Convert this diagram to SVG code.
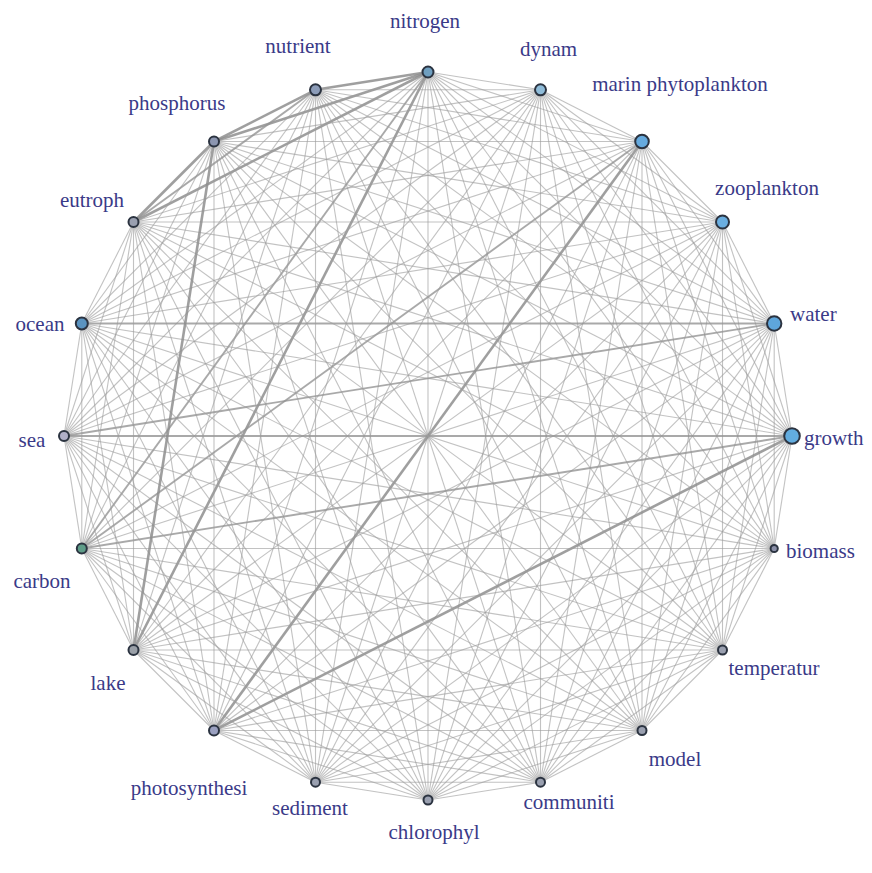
<svg xmlns="http://www.w3.org/2000/svg" width="872" height="873" viewBox="0 0 872 873">
<style>
.e{fill:none;stroke:#9c9c9c;stroke-opacity:.62;stroke-width:1.1}
.m{fill:none;stroke:#949494;stroke-opacity:.8;stroke-width:1.9}
.t{fill:none;stroke:#8e8e8e;stroke-opacity:.85;stroke-width:2.6}
.n{stroke:#2b3340;stroke-width:2}
.l{font-family:"Liberation Serif","Times New Roman",serif;font-size:21px;fill:#3a3a88}
</style>
<rect width="872" height="873" fill="#ffffff"/>
<g id="edges">
<path class="e" d="M428 72L540.5 89.8"/><path class="e" d="M428 72L642 141.5"/><path class="e" d="M428 72L722.5 222"/><path class="e" d="M428 72L774.2 323.5"/><path class="e" d="M428 72L792 436"/><path class="e" d="M428 72L774.2 548.5"/><path class="e" d="M428 72L722.5 650"/><path class="e" d="M428 72L642 730.5"/><path class="e" d="M428 72L540.5 782.2"/><path class="e" d="M428 72L428 800"/><path class="e" d="M428 72L315.5 782.2"/><path class="e" d="M428 72L214 730.5"/><path class="t" d="M428 72L133.5 650"/><path class="m" d="M428 72L81.8 548.5"/><path class="e" d="M428 72L64 436"/><path class="e" d="M428 72L81.8 323.5"/><path class="t" d="M428 72L133.5 222"/><path class="t" d="M428 72L214 141.5"/><path class="t" d="M428 72L315.5 89.8"/>
<path class="e" d="M540.5 89.8L642 141.5"/><path class="e" d="M540.5 89.8L722.5 222"/><path class="e" d="M540.5 89.8L774.2 323.5"/><path class="e" d="M540.5 89.8L792 436"/><path class="e" d="M540.5 89.8L774.2 548.5"/><path class="e" d="M540.5 89.8L722.5 650"/><path class="e" d="M540.5 89.8L642 730.5"/><path class="e" d="M540.5 89.8L540.5 782.2"/><path class="e" d="M540.5 89.8L428 800"/><path class="e" d="M540.5 89.8L315.5 782.2"/><path class="e" d="M540.5 89.8L214 730.5"/><path class="e" d="M540.5 89.8L133.5 650"/><path class="e" d="M540.5 89.8L81.8 548.5"/><path class="e" d="M540.5 89.8L64 436"/><path class="e" d="M540.5 89.8L81.8 323.5"/><path class="e" d="M540.5 89.8L133.5 222"/><path class="e" d="M540.5 89.8L214 141.5"/><path class="e" d="M540.5 89.8L315.5 89.8"/>
<path class="e" d="M642 141.5L722.5 222"/><path class="e" d="M642 141.5L774.2 323.5"/><path class="e" d="M642 141.5L792 436"/><path class="e" d="M642 141.5L774.2 548.5"/><path class="e" d="M642 141.5L722.5 650"/><path class="e" d="M642 141.5L642 730.5"/><path class="e" d="M642 141.5L540.5 782.2"/><path class="e" d="M642 141.5L428 800"/><path class="e" d="M642 141.5L315.5 782.2"/><path class="t" d="M642 141.5L214 730.5"/><path class="e" d="M642 141.5L133.5 650"/><path class="m" d="M642 141.5L81.8 548.5"/><path class="e" d="M642 141.5L64 436"/><path class="e" d="M642 141.5L81.8 323.5"/><path class="e" d="M642 141.5L133.5 222"/><path class="e" d="M642 141.5L214 141.5"/><path class="e" d="M642 141.5L315.5 89.8"/>
<path class="e" d="M722.5 222L774.2 323.5"/><path class="e" d="M722.5 222L792 436"/><path class="e" d="M722.5 222L774.2 548.5"/><path class="e" d="M722.5 222L722.5 650"/><path class="e" d="M722.5 222L642 730.5"/><path class="e" d="M722.5 222L540.5 782.2"/><path class="e" d="M722.5 222L428 800"/><path class="e" d="M722.5 222L315.5 782.2"/><path class="e" d="M722.5 222L214 730.5"/><path class="e" d="M722.5 222L133.5 650"/><path class="e" d="M722.5 222L81.8 548.5"/><path class="e" d="M722.5 222L64 436"/><path class="e" d="M722.5 222L81.8 323.5"/><path class="e" d="M722.5 222L133.5 222"/><path class="e" d="M722.5 222L214 141.5"/><path class="e" d="M722.5 222L315.5 89.8"/>
<path class="e" d="M774.2 323.5L792 436"/><path class="e" d="M774.2 323.5L774.2 548.5"/><path class="e" d="M774.2 323.5L722.5 650"/><path class="e" d="M774.2 323.5L642 730.5"/><path class="e" d="M774.2 323.5L540.5 782.2"/><path class="e" d="M774.2 323.5L428 800"/><path class="e" d="M774.2 323.5L315.5 782.2"/><path class="e" d="M774.2 323.5L214 730.5"/><path class="e" d="M774.2 323.5L133.5 650"/><path class="e" d="M774.2 323.5L81.8 548.5"/><path class="m" d="M774.2 323.5L64 436"/><path class="m" d="M774.2 323.5L81.8 323.5"/><path class="e" d="M774.2 323.5L133.5 222"/><path class="e" d="M774.2 323.5L214 141.5"/><path class="e" d="M774.2 323.5L315.5 89.8"/>
<path class="e" d="M792 436L774.2 548.5"/><path class="e" d="M792 436L722.5 650"/><path class="e" d="M792 436L642 730.5"/><path class="e" d="M792 436L540.5 782.2"/><path class="e" d="M792 436L428 800"/><path class="e" d="M792 436L315.5 782.2"/><path class="t" d="M792 436L214 730.5"/><path class="e" d="M792 436L133.5 650"/><path class="m" d="M792 436L81.8 548.5"/><path class="m" d="M792 436L64 436"/><path class="e" d="M792 436L81.8 323.5"/><path class="e" d="M792 436L133.5 222"/><path class="e" d="M792 436L214 141.5"/><path class="e" d="M792 436L315.5 89.8"/>
<path class="e" d="M774.2 548.5L722.5 650"/><path class="e" d="M774.2 548.5L642 730.5"/><path class="e" d="M774.2 548.5L540.5 782.2"/><path class="e" d="M774.2 548.5L428 800"/><path class="e" d="M774.2 548.5L315.5 782.2"/><path class="e" d="M774.2 548.5L214 730.5"/><path class="e" d="M774.2 548.5L133.5 650"/><path class="e" d="M774.2 548.5L81.8 548.5"/><path class="e" d="M774.2 548.5L64 436"/><path class="e" d="M774.2 548.5L81.8 323.5"/><path class="e" d="M774.2 548.5L133.5 222"/><path class="e" d="M774.2 548.5L214 141.5"/><path class="e" d="M774.2 548.5L315.5 89.8"/>
<path class="e" d="M722.5 650L642 730.5"/><path class="e" d="M722.5 650L540.5 782.2"/><path class="e" d="M722.5 650L428 800"/><path class="e" d="M722.5 650L315.5 782.2"/><path class="e" d="M722.5 650L214 730.5"/><path class="e" d="M722.5 650L133.5 650"/><path class="e" d="M722.5 650L81.8 548.5"/><path class="e" d="M722.5 650L64 436"/><path class="e" d="M722.5 650L81.8 323.5"/><path class="e" d="M722.5 650L133.5 222"/><path class="e" d="M722.5 650L214 141.5"/><path class="e" d="M722.5 650L315.5 89.8"/>
<path class="e" d="M642 730.5L540.5 782.2"/><path class="e" d="M642 730.5L428 800"/><path class="e" d="M642 730.5L315.5 782.2"/><path class="e" d="M642 730.5L214 730.5"/><path class="e" d="M642 730.5L133.5 650"/><path class="e" d="M642 730.5L81.8 548.5"/><path class="e" d="M642 730.5L64 436"/><path class="e" d="M642 730.5L81.8 323.5"/><path class="e" d="M642 730.5L133.5 222"/><path class="e" d="M642 730.5L214 141.5"/><path class="e" d="M642 730.5L315.5 89.8"/>
<path class="e" d="M540.5 782.2L428 800"/><path class="e" d="M540.5 782.2L315.5 782.2"/><path class="e" d="M540.5 782.2L214 730.5"/><path class="e" d="M540.5 782.2L133.5 650"/><path class="e" d="M540.5 782.2L81.8 548.5"/><path class="e" d="M540.5 782.2L64 436"/><path class="e" d="M540.5 782.2L81.8 323.5"/><path class="e" d="M540.5 782.2L133.5 222"/><path class="e" d="M540.5 782.2L214 141.5"/><path class="e" d="M540.5 782.2L315.5 89.8"/>
<path class="e" d="M428 800L315.5 782.2"/><path class="e" d="M428 800L214 730.5"/><path class="e" d="M428 800L133.5 650"/><path class="e" d="M428 800L81.8 548.5"/><path class="e" d="M428 800L64 436"/><path class="e" d="M428 800L81.8 323.5"/><path class="e" d="M428 800L133.5 222"/><path class="e" d="M428 800L214 141.5"/><path class="e" d="M428 800L315.5 89.8"/>
<path class="e" d="M315.5 782.2L214 730.5"/><path class="e" d="M315.5 782.2L133.5 650"/><path class="e" d="M315.5 782.2L81.8 548.5"/><path class="e" d="M315.5 782.2L64 436"/><path class="e" d="M315.5 782.2L81.8 323.5"/><path class="e" d="M315.5 782.2L133.5 222"/><path class="e" d="M315.5 782.2L214 141.5"/><path class="e" d="M315.5 782.2L315.5 89.8"/>
<path class="e" d="M214 730.5L133.5 650"/><path class="e" d="M214 730.5L81.8 548.5"/><path class="e" d="M214 730.5L64 436"/><path class="e" d="M214 730.5L81.8 323.5"/><path class="e" d="M214 730.5L133.5 222"/><path class="e" d="M214 730.5L214 141.5"/><path class="e" d="M214 730.5L315.5 89.8"/>
<path class="e" d="M133.5 650L81.8 548.5"/><path class="e" d="M133.5 650L64 436"/><path class="e" d="M133.5 650L81.8 323.5"/><path class="e" d="M133.5 650L133.5 222"/><path class="t" d="M133.5 650L214 141.5"/><path class="e" d="M133.5 650L315.5 89.8"/>
<path class="e" d="M81.8 548.5L64 436"/><path class="e" d="M81.8 548.5L81.8 323.5"/><path class="e" d="M81.8 548.5L133.5 222"/><path class="e" d="M81.8 548.5L214 141.5"/><path class="e" d="M81.8 548.5L315.5 89.8"/>
<path class="e" d="M64 436L81.8 323.5"/><path class="e" d="M64 436L133.5 222"/><path class="e" d="M64 436L214 141.5"/><path class="e" d="M64 436L315.5 89.8"/>
<path class="e" d="M81.8 323.5L133.5 222"/><path class="e" d="M81.8 323.5L214 141.5"/><path class="e" d="M81.8 323.5L315.5 89.8"/>
<path class="t" d="M133.5 222L214 141.5"/><path class="m" d="M133.5 222L315.5 89.8"/>
<path class="t" d="M214 141.5L315.5 89.8"/>
</g>
<g id="n-nitrogen"><circle class="n" cx="428" cy="72" r="5.5" fill="#6f9fc0"/><text class="l" x="425" y="28" text-anchor="middle">nitrogen</text></g>
<g id="n-dynam"><circle class="n" cx="540.5" cy="89.8" r="5.5" fill="#8fbcd9"/><text class="l" x="520" y="56">dynam</text></g>
<g id="n-marin-phytoplankton"><circle class="n" cx="642" cy="141.5" r="6.8" fill="#66aade"/><text class="l" x="680" y="91" text-anchor="middle">marin phytoplankton</text></g>
<g id="n-zooplankton"><circle class="n" cx="722.5" cy="222" r="6.5" fill="#6aaee0"/><text class="l" x="767" y="195" text-anchor="middle">zooplankton</text></g>
<g id="n-water"><circle class="n" cx="774.2" cy="323.5" r="7.2" fill="#5ea6dc"/><text class="l" x="790" y="321">water</text></g>
<g id="n-growth"><circle class="n" cx="792" cy="436" r="7.8" fill="#62acdf"/><text class="l" x="804" y="445">growth</text></g>
<g id="n-biomass"><circle class="n" cx="774.2" cy="548.5" r="3.6" fill="#8a8fa8"/><text class="l" x="786" y="558">biomass</text></g>
<g id="n-temperatur"><circle class="n" cx="722.5" cy="650" r="4.5" fill="#9aa0b0"/><text class="l" x="774" y="675" text-anchor="middle">temperatur</text></g>
<g id="n-model"><circle class="n" cx="642" cy="730.5" r="4.5" fill="#9aa0b0"/><text class="l" x="675" y="766" text-anchor="middle">model</text></g>
<g id="n-communiti"><circle class="n" cx="540.5" cy="782.2" r="4.5" fill="#9aa0b0"/><text class="l" x="569" y="809" text-anchor="middle">communiti</text></g>
<g id="n-chlorophyl"><circle class="n" cx="428" cy="800" r="4.5" fill="#9aa0b0"/><text class="l" x="434" y="839" text-anchor="middle">chlorophyl</text></g>
<g id="n-sediment"><circle class="n" cx="315.5" cy="782.2" r="4.5" fill="#9aa0b0"/><text class="l" x="310" y="815" text-anchor="middle">sediment</text></g>
<g id="n-photosynthesi"><circle class="n" cx="214" cy="730.5" r="5" fill="#9aa0c0"/><text class="l" x="189" y="795" text-anchor="middle">photosynthesi</text></g>
<g id="n-lake"><circle class="n" cx="133.5" cy="650" r="5" fill="#9aa0a8"/><text class="l" x="108" y="690" text-anchor="middle">lake</text></g>
<g id="n-carbon"><circle class="n" cx="81.8" cy="548.5" r="5" fill="#5e9c88"/><text class="l" x="42" y="588" text-anchor="middle">carbon</text></g>
<g id="n-sea"><circle class="n" cx="64" cy="436" r="5" fill="#b0b0c8"/><text class="l" x="32" y="447" text-anchor="middle">sea</text></g>
<g id="n-ocean"><circle class="n" cx="81.8" cy="323.5" r="6" fill="#5a93c0"/><text class="l" x="40" y="331" text-anchor="middle">ocean</text></g>
<g id="n-eutroph"><circle class="n" cx="133.5" cy="222" r="5" fill="#9aa0b0"/><text class="l" x="92" y="207" text-anchor="middle">eutroph</text></g>
<g id="n-phosphorus"><circle class="n" cx="214" cy="141.5" r="5" fill="#8c96b0"/><text class="l" x="177" y="110" text-anchor="middle">phosphorus</text></g>
<g id="n-nutrient"><circle class="n" cx="315.5" cy="89.8" r="5.5" fill="#8c9cb8"/><text class="l" x="298" y="53" text-anchor="middle">nutrient</text></g>
</svg>
